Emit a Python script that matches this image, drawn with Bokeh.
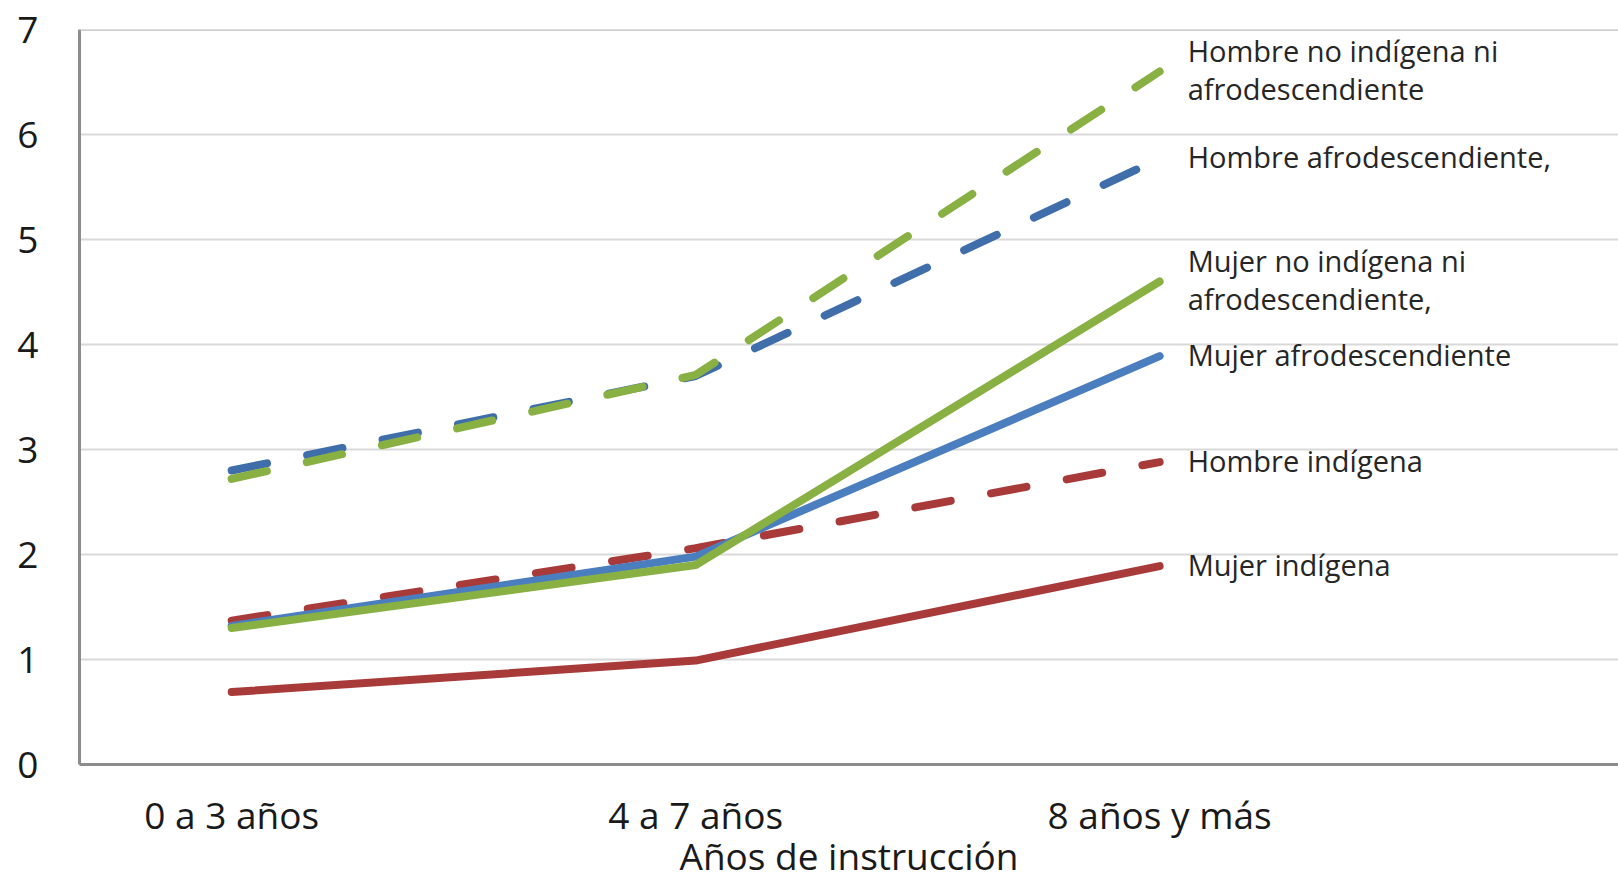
from bokeh.plotting import figure
from bokeh.models import FixedTicker, ColumnDataSource, Span
from bokeh.core.properties import value
from bokeh.embed import file_html
from bokeh.resources import INLINE

categories = ["0 a 3 años", "4 a 7 años", "8 años y más"]
x_title = "Años de instrucción"

series_names = [
    "Hombre indígena",
    "Mujer indígena",
    "Hombre afrodescendiente,",
    "Mujer afrodescendiente",
    "Hombre no indígena ni\nafrodescendiente",
    "Mujer no indígena ni\nafrodescendiente,",
]
hombre_indigena = [1.37, 2.06, 2.88]
mujer_indigena = [0.69, 0.99, 1.89]
hombre_afro = [2.80, 3.70, 5.77]
mujer_afro = [1.32, 1.98, 3.89]
hombre_no_ind = [2.72, 3.71, 6.60]
mujer_no_ind = [1.30, 1.90, 4.60]

series_values = [hombre_indigena, mujer_indigena, hombre_afro, mujer_afro, hombre_no_ind, mujer_no_ind]
series_colors = ["#A83B3A", "#A83B3A", "#3F6EAA", "#4A7EBE", "#88B043", "#88B043"]
series_dash = ["36 41", "solid", "36 41", "solid", "36 41", "solid"]

y_ticks = [0, 1, 2, 3, 4, 5, 6, 7]

FONT = "Open Sans"

p = figure(width=1618, height=884, output_backend="svg", toolbar_location=None,
           x_range=(-0.328, 2.989), y_range=(0, 7),
           min_border_left=79, min_border_right=0, min_border_top=29, min_border_bottom=120)
p.outline_line_color = None
p.background_fill_color = "white"
p.border_fill_color = "white"

xs = list(range(len(categories)))

p.xgrid.grid_line_color = None
p.ygrid.grid_line_color = "#D9D9D9"
p.ygrid.grid_line_width = 2
p.add_layout(Span(location=p.y_range.end, dimension="width", line_color="#BDBDBD", line_width=2.5))

for name, vals, col, dash in zip(series_names, series_values, series_colors, series_dash):
    p.line(xs, vals, line_color=col, line_width=8, line_dash=dash, line_cap="round", line_join="round")

# end labels
lab_src = ColumnDataSource(dict(
    x=[xs[-1]] * len(series_names),
    y=[v[-1] for v in series_values],
    t=series_names,
))
p.text(x="x", y="y", text="t", source=lab_src, x_offset=28, y_offset=-2,
       text_font=value(FONT), text_font_size="29px", text_color="#262626",
       text_baseline="middle", text_align="left", text_line_height=0.97)

# axes
p.xaxis.ticker = FixedTicker(ticks=xs)
p.xaxis.major_label_overrides = {i: c for i, c in enumerate(categories)}
p.xaxis.axis_label = x_title
p.yaxis.ticker = FixedTicker(ticks=y_ticks)

for ax in (p.xaxis[0], p.yaxis[0]):
    ax.major_tick_line_color = None
    ax.minor_tick_line_color = None
    ax.major_tick_out = 0
    ax.major_tick_in = 0
    ax.minor_tick_out = 0
    ax.axis_line_color = "#8C8C8C"
    ax.axis_line_width = 3
    ax.major_label_text_font = FONT
    ax.major_label_text_font_size = "37px"
    ax.major_label_text_color = "#1A1A1A"

p.xaxis.major_label_standoff = 24
p.yaxis.major_label_standoff = 41
p.xaxis.axis_label_text_font = FONT
p.xaxis.axis_label_text_font_size = "37px"
p.xaxis.axis_label_text_font_style = "normal"
p.xaxis.axis_label_text_color = "#1A1A1A"
p.xaxis.axis_label_standoff = -13

open("out.html", "w").write(file_html(p, INLINE))
